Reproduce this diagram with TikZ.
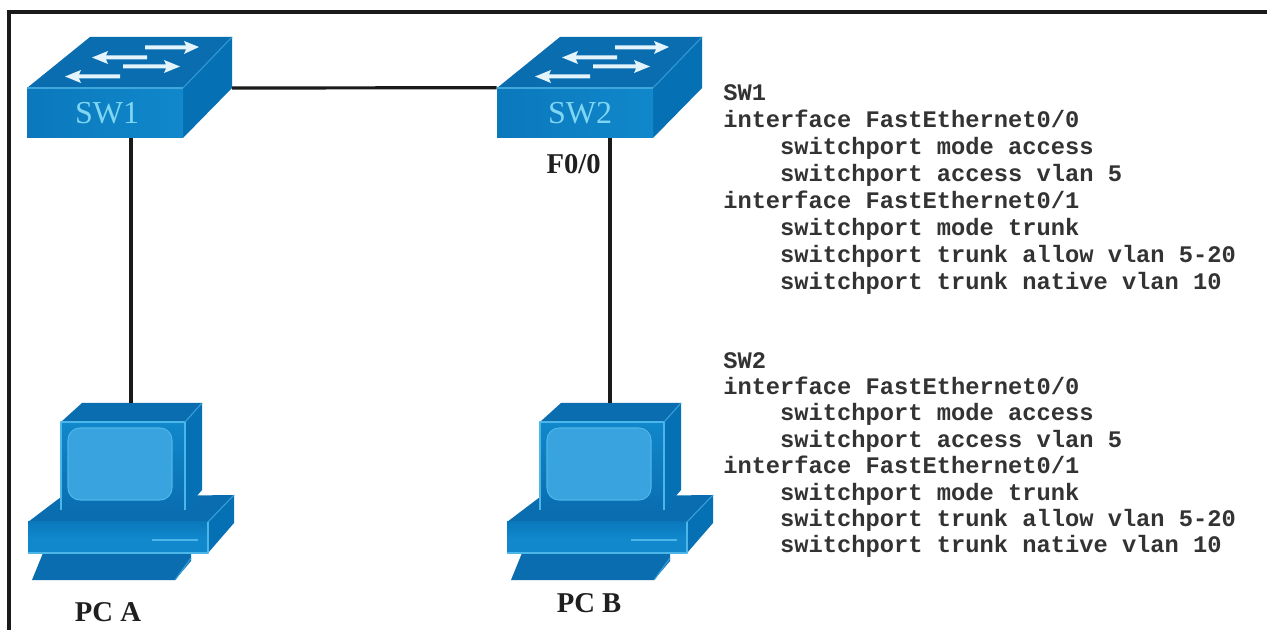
\documentclass[tikz,border=0pt]{standalone}
\usepackage{fontspec}
\setmainfont{Liberation Serif}
\setmonofont{Liberation Mono}
\definecolor{topc}{HTML}{0A6DB0}
\definecolor{frontc}{HTML}{1088CB}
\definecolor{frontd}{HTML}{0B78BC}
\definecolor{sidec}{HTML}{0670B4}
\definecolor{edgec}{HTML}{4DB6E8}
\definecolor{screenc}{HTML}{38A3DE}
\definecolor{labelc}{HTML}{7FD6F2}
\definecolor{codec}{HTML}{333333}
\definecolor{framec}{HTML}{1A1A1A}
\tikzset{
  x=0.75pt,y=-0.75pt,
  hl/.style={draw=edgec,line width=0.8pt,line join=round},
  link/.style={draw=framec,line width=2.4pt},
  flow/.style={fill=white!85!edgec,draw=none},
  code/.style={anchor=north west,inner sep=0pt,align=left,text=codec},
  caption/.style={inner sep=0pt,text=black!88,font=\fontsize{21.5}{25}\selectfont\bfseries},
  swlabel/.style={inner sep=0pt,text=labelc,font=\fontsize{24}{27}\selectfont},
  pics/switch/.style={code={
    \fill[topc] (90,37)--(232,37)--(183,88)--(27,88)--cycle;
    \fill[sidec] (232,37)--(232,88)--(183,138)--(183,88)--cycle;
    \draw[hl,draw=edgec!60!sidec] (183,88)--(232,37);
    \node[coordinate] (-back) at (232,88) {};
    \node (-front) at (105,113) [minimum width=117pt,minimum height=37.5pt,inner sep=0pt,
      left color=frontd,right color=frontc] {};
    \draw[hl,draw=edgec!80!topc] (27,88)--(183,88);
    \fill[flow] (145,45.5)--(186,45.5)--(184,41)--(199,47)--(184,54)--(186,49.5)--(145,49.5)--cycle;
    \fill[flow] (147,55.5)--(106,55.5)--(108,51)--(92,57.5)--(108,64)--(106,59.5)--(147,59.5)--cycle;
    \fill[flow] (123,64.5)--(166,64.5)--(164,60)--(180,66.5)--(164,73)--(166,68.5)--(123,68.5)--cycle;
    \fill[flow] (120,74.5)--(79,74.5)--(81,70)--(65,76.5)--(81,83)--(79,78.5)--(120,78.5)--cycle;
  }},
  pics/computer/.style={code={
    % keyboard
    \fill[topc] (43,553)--(191,553)--(191,561)--(175,580)--(32,580)--cycle;
    \draw[hl,draw=edgec!70!topc] (191,558)--(175,580);
    % base
    \fill[topc] (61,497)--(234,495)--(208,522)--(28,522)--cycle;
    \fill[sidec] (234,495)--(234,523)--(208,553)--(208,522)--cycle;
    \shade[top color=frontd,bottom color=frontc,middle color=frontc] (28,522) rectangle (208,553);
    \draw[hl,draw=edgec!70!sidec] (208,522)--(234,495);
    \draw[hl] (208,522)--(208,553)--(28,553);
    \draw[hl] (152,540)--(198,540);
    % monitor
    \fill[topc] (82,403)--(202,403)--(185,422)--(61,422)--cycle;
    \fill[sidec] (202,403)--(202,490)--(185,510)--(185,422)--cycle;
    \shade[top color=frontc,bottom color=topc] (61,422) rectangle (185,512);
    \draw[hl] (61,510)--(61,422)--(185,422)--(185,510);
    \draw[hl,draw=edgec!70!sidec] (185,422)--(202,403);
    \fill[screenc,draw=edgec,line width=0.8pt,rounded corners=9pt] (68,428) rectangle (172,500);
    \node[coordinate] (-top) at (131,403) {};
  }}
}
\begin{document}
\begin{tikzpicture}
\useasboundingbox (0,0) rectangle (1267,630);
\fill[white] (0,0) rectangle (1267,630);
\coordinate (frameBL) at (9,630);
\coordinate (frameTL) at (9,12);
\coordinate (frameTR) at (1267,12);
\draw[draw=framec,line width=3pt,line join=miter] (frameBL)--(frameTL)--(frameTR);

\pic (swa) at (0,0) {switch};
\pic (swb) at (470,0) {switch};
\pic (pca) at (0,0) {computer};
\pic (pcb) at (479,0) {computer};

\node[swlabel] (lblswa) at (107,113) {SW1};
\node[swlabel] (lblswb) at (580,113) {SW2};

\draw[link] (swa-back) -- (swb-front.north west);
\draw[link] (pca-top) -- (pca-top |- swa-front.south);
\draw[link] (pcb-top) -- (pcb-top |- swb-front.south);

\node[caption] (lblpca) at (108,612) {PC A};
\node[caption] (lblpcb) at (589,603) {PC B};
\node[caption,anchor=east] (lblf) at (601,164) {F0/0};

\node[code,font=\fontsize{17.8}{20.25}\selectfont\ttfamily\bfseries] (cfga) at (723,84) {SW1\\
interface FastEthernet0/0\\
\phantom{xxxx}switchport mode access\\
\phantom{xxxx}switchport access vlan 5\\
interface FastEthernet0/1\\
\phantom{xxxx}switchport mode trunk\\
\phantom{xxxx}switchport trunk allow vlan 5-20\\
\phantom{xxxx}switchport trunk native vlan 10};
\node[code,font=\fontsize{17.8}{19.8}\selectfont\ttfamily\bfseries] (cfgb) at (723,352) {SW2\\
interface FastEthernet0/0\\
\phantom{xxxx}switchport mode access\\
\phantom{xxxx}switchport access vlan 5\\
interface FastEthernet0/1\\
\phantom{xxxx}switchport mode trunk\\
\phantom{xxxx}switchport trunk allow vlan 5-20\\
\phantom{xxxx}switchport trunk native vlan 10};
\end{tikzpicture}
\end{document}
